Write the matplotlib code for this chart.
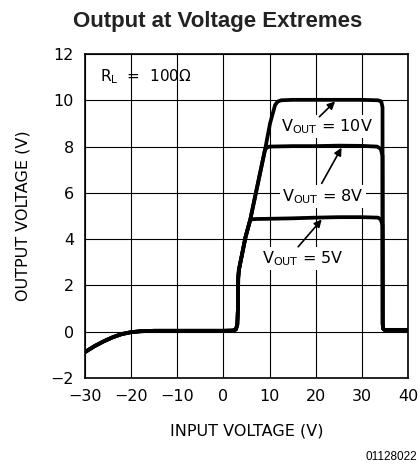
import matplotlib
matplotlib.use('Agg')
import matplotlib.pyplot as plt

# shared part of the transfer curve (input ramping up from -30V)
vin_rise = [-30, -28, -26, -24, -22, -20, -18, -15, -10, -5, 0, 2.0, 2.7, 3.0, 3.15, 3.2, 3.35, 4.8, 5.8]
vout_rise = [-0.88, -0.63, -0.42, -0.24, -0.10, -0.02, 0.02, 0.04, 0.04, 0.04, 0.04, 0.05, 0.1, 0.3, 1.0, 2.3, 2.67, 4.1, 4.83]

# shared drop back to zero above ~34.5V
vin_fall = [34.52, 34.6, 34.9, 36, 40]
vout_fall = [0.35, 0.14, 0.08, 0.08, 0.08]

# plateaus for each regulated output
vin_10 = [9.15, 10.1, 11.2, 11.8, 12.5, 15, 20, 25, 30, 33.5, 34.2, 34.48]
vout_10 = [8.0, 9.0, 9.8, 9.95, 10.0, 10.02, 10.02, 10.02, 10.02, 10.0, 9.95, 9.7]

vin_8 = [9.0, 9.4, 10.0, 15, 20, 25, 30, 33.3, 34.1, 34.48]
vout_8 = [7.85, 7.96, 8.0, 8.02, 8.02, 8.04, 8.03, 8.0, 7.9, 7.6]

vin_5 = [6.3, 7.0, 10, 15, 20, 25, 30, 33.5, 34.1, 34.48]
vout_5 = [4.86, 4.87, 4.88, 4.9, 4.93, 4.95, 4.95, 4.93, 4.85, 4.6]

labels = [r'V$_{\mathrm{OUT}}$ = 10V', r'V$_{\mathrm{OUT}}$ = 8V', r'V$_{\mathrm{OUT}}$ = 5V']
label_pos = [(22.4, 8.86), (21.6, 5.83), (17.3, 3.17)]
arrow_tail = [(20.8, 9.29), (21.3, 6.41), (16.2, 3.67)]
arrow_tip = [(24.2, 9.95), (25.6, 7.95), (21.3, 4.85)]

fig = plt.figure(figsize=(4.2, 4.68), dpi=100)
ax = fig.add_axes([0.2024, 0.1923, 0.769, 0.6923])

for vx, vy in [(vin_10, vout_10), (vin_8, vout_8), (vin_5, vout_5)]:
    ax.plot(vin_rise + vx + vin_fall, vout_rise + vy + vout_fall,
            color='black', lw=2.7, solid_joinstyle='round', solid_capstyle='round', zorder=3)

ax.set_xlim(-30, 40)
ax.set_ylim(-2, 12)
ax.set_xticks(range(-30, 41, 10))
ax.set_yticks(range(-2, 13, 2))
ax.grid(True, color='black', lw=0.8)
ax.tick_params(length=0, labelsize=11.5, pad=8)
for s in ax.spines.values():
    s.set_linewidth(1.2)

ax.set_xlabel('INPUT VOLTAGE (V)', fontsize=11.5, labelpad=14)
ax.set_ylabel('OUTPUT VOLTAGE (V)', fontsize=11.5, labelpad=14)

ax.text(-26.8, 11.0, r'R$_{\mathrm{L}}$  =  100$\Omega$', fontsize=11, ha='left', va='center')

for lab, pos, tail, tip in zip(labels, label_pos, arrow_tail, arrow_tip):
    ax.text(pos[0], pos[1], lab, fontsize=11.5, ha='center', va='center', zorder=4,
            bbox=dict(facecolor='white', edgecolor='none', pad=1.5))
    ax.annotate('', xy=tip, xytext=tail, zorder=5,
                arrowprops=dict(arrowstyle='-|>', color='black', lw=1.2, mutation_scale=11,
                                shrinkA=0, shrinkB=0))

fig.text(0.517, 0.955, 'Output at Voltage Extremes', fontsize=16, fontweight='bold',
         family='Liberation Sans', ha='center', va='center', color='#222222')
fig.text(0.993, 0.024, '01128022', fontsize=8.5, family='Liberation Sans', ha='right', va='center')

fig.savefig('out.png', dpi=100)
